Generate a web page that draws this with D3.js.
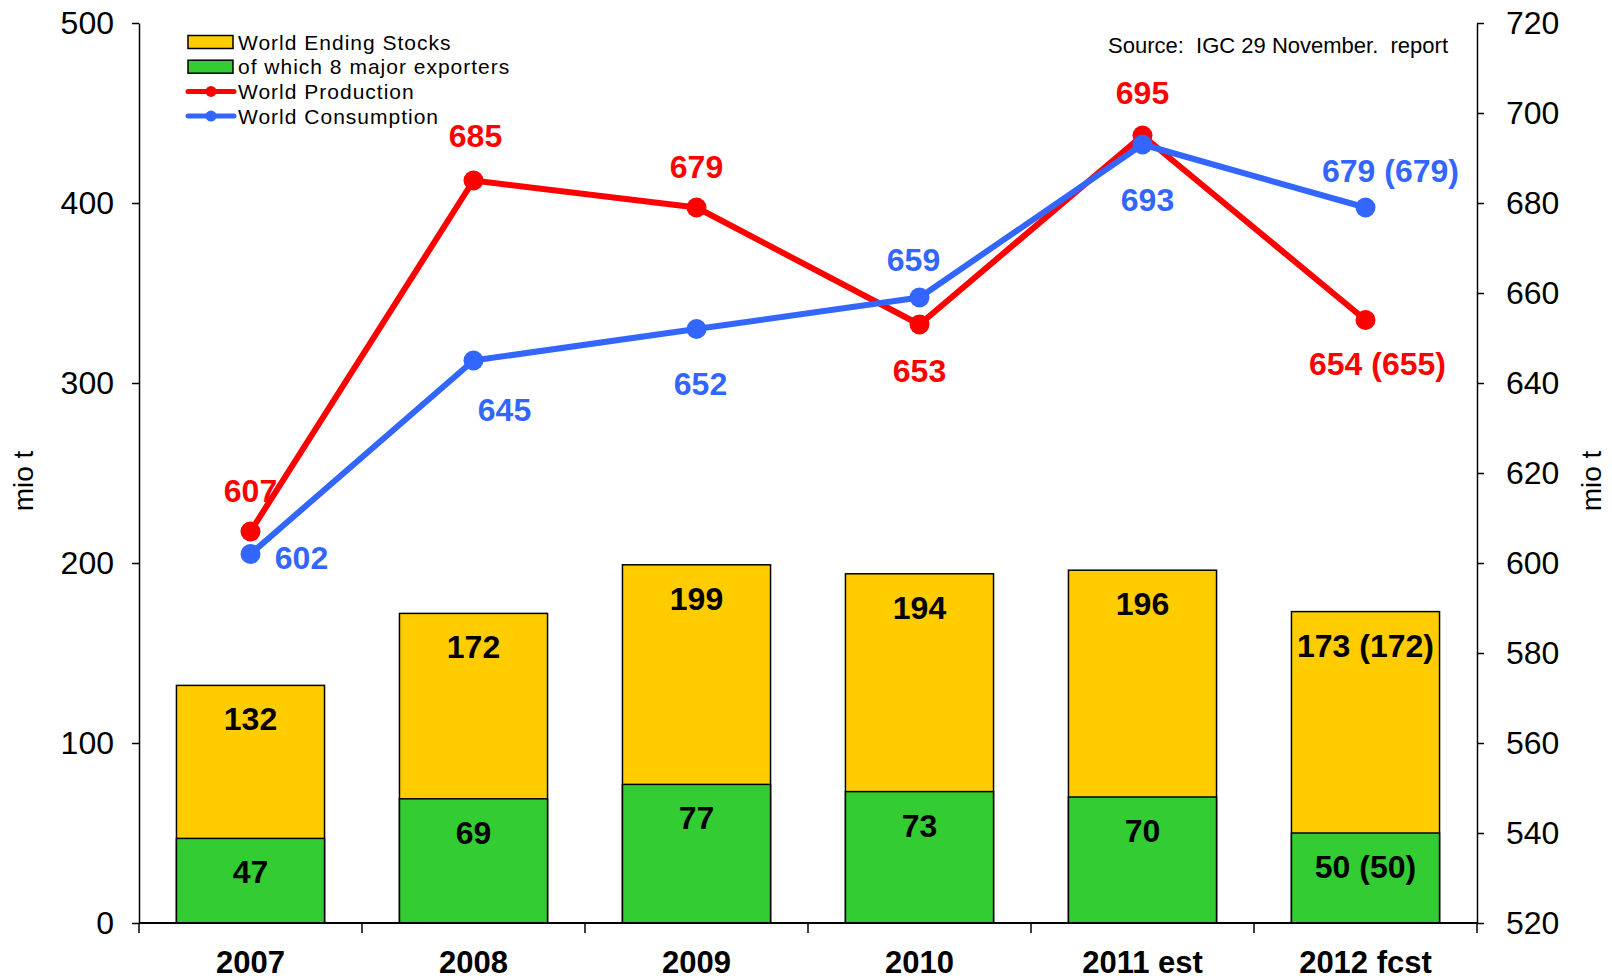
<!DOCTYPE html>
<html>
<head>
<meta charset="utf-8">
<script src="https://cdn.jsdelivr.net/npm/d3@7"></script>
<style>
  body { margin: 0; background: #fff; }
  svg { display: block; font-family: "Liberation Sans", Arial, sans-serif; }
</style>
</head>
<body>
<div id="chart"></div>
<script>
// data
const years = ["2007", "2008", "2009", "2010", "2011 est", "2012 fcst"]
const stocks = [132, 172, 199, 194, 196, 173]
const stocksPrev = [null, null, null, null, null, 172]
const exporters = [47, 69, 77, 73, 70, 50]
const exportersPrev = [null, null, null, null, null, 50]
const production = [607, 685, 679, 653, 695, 654]
const productionPrev = [null, null, null, null, null, 655]
const consumption = [602, 645, 652, 659, 693, 679]
const consumptionPrev = [null, null, null, null, null, 679]
const leftTicks = [0, 100, 200, 300, 400, 500]
const rightTicks = [520, 540, 560, 580, 600, 620, 640, 660, 680, 700, 720]

// label nudges relative to each point (px)
const prodOffset = [[0, -41], [2, -45], [0, -41], [0, 46], [0, -43], [12, 44]]
const consOffset = [[51, 4], [31, 49], [4, 55], [-6, -38], [5, 55], [25, -37]]

const W = 1612, H = 980
const M = {left: 139, right: 1477, top: 23, bottom: 923}
const YELLOW = "#FFCC00", GREEN = "#33CC33", RED = "#FF0000", BLUE = "#3366FF"

const svg = d3.select("#chart").append("svg").attr("width", W).attr("height", H)

const x = d3.scaleBand().domain(years).range([M.left, M.right]).paddingInner(0.336).paddingOuter(0.168)
const yL = d3.scaleLinear().domain([0, 500]).range([M.bottom, M.top])
const yR = d3.scaleLinear().domain([520, 720]).range([M.bottom, M.top])
const cx = d => x(d) + x.bandwidth() / 2

const withPrev = (v, p) => p == null ? String(v) : v + " (" + p + ")"

// bars: total stocks behind, exporters in front
const bars = svg.append("g")
bars.selectAll(".stock").data(years).join("rect")
  .attr("x", d => x(d)).attr("width", x.bandwidth())
  .attr("y", (d, i) => yL(stocks[i])).attr("height", (d, i) => yL(0) - yL(stocks[i]))
  .attr("fill", YELLOW).attr("stroke", "#000").attr("stroke-width", 1.5)
bars.selectAll(".exp").data(years).join("rect")
  .attr("x", d => x(d)).attr("width", x.bandwidth())
  .attr("y", (d, i) => yL(exporters[i])).attr("height", (d, i) => yL(0) - yL(exporters[i]))
  .attr("fill", GREEN).attr("stroke", "#000").attr("stroke-width", 1.5)

const boldLabel = g => g.attr("text-anchor", "middle").attr("dominant-baseline", "central")
  .style("font-size", "32px").style("font-weight", "bold")

bars.selectAll(".lblS").data(years).join("text")
  .attr("x", d => cx(d)).attr("y", (d, i) => yL(stocks[i]) + 34)
  .text((d, i) => withPrev(stocks[i], stocksPrev[i])).call(boldLabel)
bars.selectAll(".lblE").data(years).join("text")
  .attr("x", d => cx(d)).attr("y", (d, i) => yL(exporters[i]) + 34)
  .text((d, i) => withPrev(exporters[i], exportersPrev[i])).call(boldLabel)

// axes
const axisStyle = g => {
  g.selectAll("path.domain").attr("stroke", "#000").attr("stroke-width", 1.5)
  g.selectAll(".tick line").attr("stroke", "#000").attr("stroke-width", 1.5)
  g.selectAll(".tick text").style("font-size", "32px").attr("fill", "#000")
    .attr("font-family", "'Liberation Sans', Arial, sans-serif")
}
svg.append("g").attr("transform", `translate(${M.left},0)`)
  .call(d3.axisLeft(yL).tickValues(leftTicks).tickSize(7).tickSizeOuter(0).tickPadding(18))
  .call(axisStyle)
svg.append("g").attr("transform", `translate(${M.right},0)`)
  .call(d3.axisRight(yR).tickValues(rightTicks).tickSize(7).tickSizeOuter(0).tickPadding(22))
  .call(axisStyle)

// bottom axis: line, boundary ticks, category labels
const xa = svg.append("g")
xa.append("line").attr("x1", M.left).attr("x2", M.right).attr("y1", M.bottom).attr("y2", M.bottom)
  .attr("stroke", "#000").attr("stroke-width", 2)
const bounds = years.map(d => x(d) - x.step() * x.paddingInner() / 2).concat([M.right])
bounds[0] = M.left
xa.selectAll(".bt").data(bounds).join("line")
  .attr("x1", d => d).attr("x2", d => d).attr("y1", M.bottom).attr("y2", M.bottom + 10)
  .attr("stroke", "#000").attr("stroke-width", 1.5)
xa.selectAll(".cat").data(years).join("text")
  .attr("x", d => cx(d)).attr("y", M.bottom + 39)
  .text(d => d).call(boldLabel).style("font-size", "31px")

// axis titles
svg.append("text").attr("transform", "translate(23,481) rotate(-90)")
  .attr("text-anchor", "middle").attr("dominant-baseline", "central")
  .style("font-size", "28px").text("mio t")
svg.append("text").attr("transform", "translate(1591,481) rotate(-90)")
  .attr("text-anchor", "middle").attr("dominant-baseline", "central")
  .style("font-size", "28px").text("mio t")

// lines
function drawLine(vals, color) {
  const g = svg.append("g")
  g.append("path").datum(vals)
    .attr("d", d3.line().x((d, i) => cx(years[i])).y(d => yR(d)))
    .attr("fill", "none").attr("stroke", color).attr("stroke-width", 6).attr("stroke-linejoin", "round")
  g.selectAll("circle").data(vals).join("circle")
    .attr("cx", (d, i) => cx(years[i])).attr("cy", d => yR(d)).attr("r", 10).attr("fill", color)
}
function drawLabels(vals, prev, offs, color) {
  svg.append("g").selectAll("text").data(vals).join("text")
    .attr("x", (d, i) => cx(years[i]) + offs[i][0]).attr("y", (d, i) => yR(d) + offs[i][1])
    .attr("fill", color).text((d, i) => withPrev(d, prev[i])).call(boldLabel)
}
drawLine(production, RED)
drawLine(consumption, BLUE)
drawLabels(production, productionPrev, prodOffset, RED)
drawLabels(consumption, consumptionPrev, consOffset, BLUE)

// legend
const legendItems = [
  {name: "World Ending Stocks", type: "bar", color: YELLOW},
  {name: "of which 8 major exporters", type: "bar", color: GREEN},
  {name: "World Production", type: "line", color: RED},
  {name: "World Consumption", type: "line", color: BLUE}
]
const lg = svg.append("g").attr("transform", "translate(188,42)")
legendItems.forEach((it, i) => {
  const row = lg.append("g").attr("transform", `translate(0,${i * 24.7})`)
  if (it.type === "bar") {
    row.append("rect").attr("x", 0).attr("y", -6.5).attr("width", 45).attr("height", 13)
      .attr("fill", it.color).attr("stroke", "#000").attr("stroke-width", 1.5)
  } else {
    row.append("line").attr("x1", 0).attr("x2", 46).attr("y1", 0).attr("y2", 0)
      .attr("stroke", it.color).attr("stroke-width", 5).attr("stroke-linecap", "round")
    row.append("circle").attr("cx", 23).attr("cy", 0).attr("r", 5.5).attr("fill", it.color)
  }
  row.append("text").attr("x", 50).attr("y", 0).attr("dominant-baseline", "central")
    .style("font-size", "21px").style("letter-spacing", "1px").text(it.name)
})

svg.append("text").attr("x", 1448).attr("y", 45).attr("text-anchor", "end")
  .attr("dominant-baseline", "central").style("font-size", "22px").style("white-space", "pre")
  .text("Source:  IGC 29 November.  report")
</script>
</body>
</html>
